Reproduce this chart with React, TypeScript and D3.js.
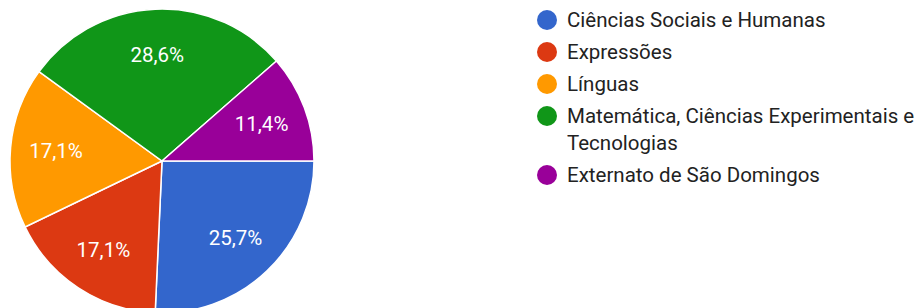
import React from "react";
import * as d3 from "d3";

const categories = [
  "Ciências Sociais e Humanas",
  "Expressões",
  "Línguas",
  "Matemática, Ciências Experimentais e Tecnologias",
  "Externato de São Domingos",
];
const values = [9, 6, 6, 10, 4];
const colors = ["#3366cc", "#dc3912", "#ff9900", "#109618", "#990099"];
const legendLines = [
  ["Ciências Sociais e Humanas"],
  ["Expressões"],
  ["Línguas"],
  ["Matemática, Ciências Experimentais e", "Tecnologias"],
  ["Externato de São Domingos"],
];

export default function App() {
  const W = 916, H = 308;
  const cx = 162, cy = 161, r = 152;
  const total = d3.sum(values);
  const pie = d3.pie<number>().sort(null).startAngle(Math.PI / 2).endAngle(Math.PI / 2 + 2 * Math.PI);
  const arcs = pie(values);
  const arc = d3.arc<d3.PieArcDatum<number>>().innerRadius(0).outerRadius(r);
  const labelArc = d3.arc<d3.PieArcDatum<number>>().innerRadius(r * 0.7).outerRadius(r * 0.7);
  const fmt = (v: number) => ((v / total) * 100).toFixed(1).replace(".", ",") + "%";

  let y = 20;
  const rows = legendLines.map((lines, i) => {
    const row = { y, lines, i };
    y += 32 + (lines.length - 1) * 27;
    return row;
  });

  return (
    <svg width={W} height={H} style={{ position: "absolute", left: 0, top: 0 }} fontFamily="Roboto, Arial, sans-serif">
      <rect width={W} height={H} fill="#fff" />
      <g transform={`translate(${cx},${cy})`}>
        {arcs.map((a, i) => (
          <path key={i} d={arc(a) || ""} fill={colors[i]} stroke="#fff" strokeWidth={1.5} />
        ))}
        {arcs.map((a, i) => {
          const [x, yy] = labelArc.centroid(a);
          return (
            <text key={i} x={x} y={yy} textAnchor="middle" dominantBaseline="central" fill="#fff" fontSize={20.5}>
              {fmt(a.data)}
            </text>
          );
        })}
      </g>
      <g>
        {rows.map((row) => (
          <g key={row.i}>
            <circle cx={547} cy={row.y} r={10} fill={colors[row.i]} />
            {row.lines.map((ln, j) => (
              <text key={j} x={567} y={row.y + j * 27} dominantBaseline="central" fontSize={20.5} fill="#222">
                {ln}
              </text>
            ))}
          </g>
        ))}
      </g>
      <title>{categories.join(", ")}</title>
    </svg>
  );
}
